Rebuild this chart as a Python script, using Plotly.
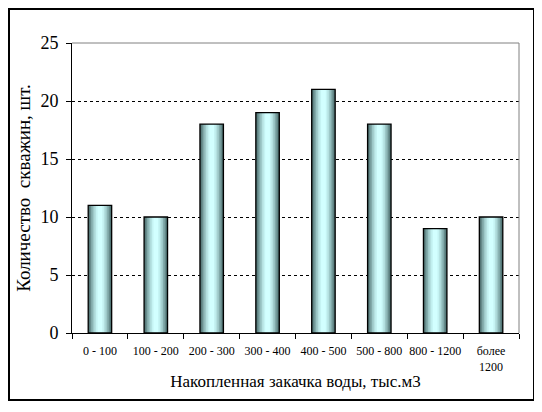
import plotly.graph_objects as go

categories = ["0 - 100", "100 - 200", "200 - 300", "300 - 400", "400 - 500",
              "500 - 800", "800 - 1200", "более<br>1200"]
wells = [11, 10, 18, 19, 21, 18, 9, 10]
y_ticks = [0, 5, 10, 15, 20, 25]

# page body has an 8px margin, so the figure is drawn from (8, 8)
W, H = 534, 404
L, R, T, B = 64, 23, 35, 79
pw, ph = W - L - R, H - T - B

fig = go.Figure()

base_w = 0.42
layers = [
    (1.00, "#4c6f6f"),
    (0.88, "#668a8a"),
    (0.76, "#82aaaa"),
    (0.62, "#9dc8c8"),
    (0.48, "#b4e0e0"),
    (0.34, "#c5f3f3"),
    (0.20, "#d2ffff"),
]
for i, (f, c) in enumerate(layers):
    fig.add_trace(go.Bar(
        x=categories, y=wells, width=base_w * f,
        marker=dict(color=c, line=dict(width=0)),
        showlegend=False, hoverinfo="skip"))
fig.add_trace(go.Bar(
    x=categories, y=wells, width=base_w,
    marker=dict(color="rgba(0,0,0,0)", line=dict(color="black", width=1.3)),
    showlegend=False, hoverinfo="skip"))

def px_x(p):
    return (p - L) / pw

def px_y(p):
    return (H - B - p) / ph

shapes = [
    dict(type="rect", xref="paper", yref="paper",
         x0=px_x(1), x1=px_x(526), y0=px_y(392), y1=px_y(1),
         line=dict(color="black", width=2), layer="above"),
    dict(type="line", xref="paper", yref="paper", x0=0, x1=1, y0=1, y1=1,
         line=dict(color="#808080", width=1), layer="above"),
    dict(type="line", xref="paper", yref="paper", x0=1, x1=1, y0=0, y1=1,
         line=dict(color="#808080", width=1), layer="above"),
]

SERIF = "Times New Roman, Liberation Serif, serif"

fig.update_layout(
    width=W, height=H,
    margin=dict(l=L, r=R, t=T, b=B, pad=0),
    paper_bgcolor="white", plot_bgcolor="white",
    barmode="overlay",
    font=dict(family=SERIF, color="black"),
    shapes=shapes,
    xaxis=dict(
        type="category", showline=True, linecolor="black", linewidth=1,
        ticks="outside", tickson="boundaries", ticklen=5, tickcolor="black",
        tickfont=dict(family=SERIF, size=12), tickangle=0, showgrid=False,
        automargin=False, ticklabelstandoff=7,
        title=dict(text="Накопленная закачка воды, тыс.м3",
                   font=dict(family=SERIF, size=17), standoff=2),
        range=[-0.5, 7.5],
    ),
    yaxis=dict(
        range=[0, 25], tickvals=y_ticks, showline=True, linecolor="black",
        linewidth=1, ticks="outside", ticklen=5, tickcolor="black",
        tickfont=dict(family=SERIF, size=18), showgrid=True, gridcolor="black",
        griddash="3px,3px", gridwidth=1, zeroline=False, automargin=False,
        ticklabelstandoff=4,
        title=dict(text="Количество  скважин, шт.",
                   font=dict(family=SERIF, size=19), standoff=4),
    ),
)

fig.write_html("out.html")
